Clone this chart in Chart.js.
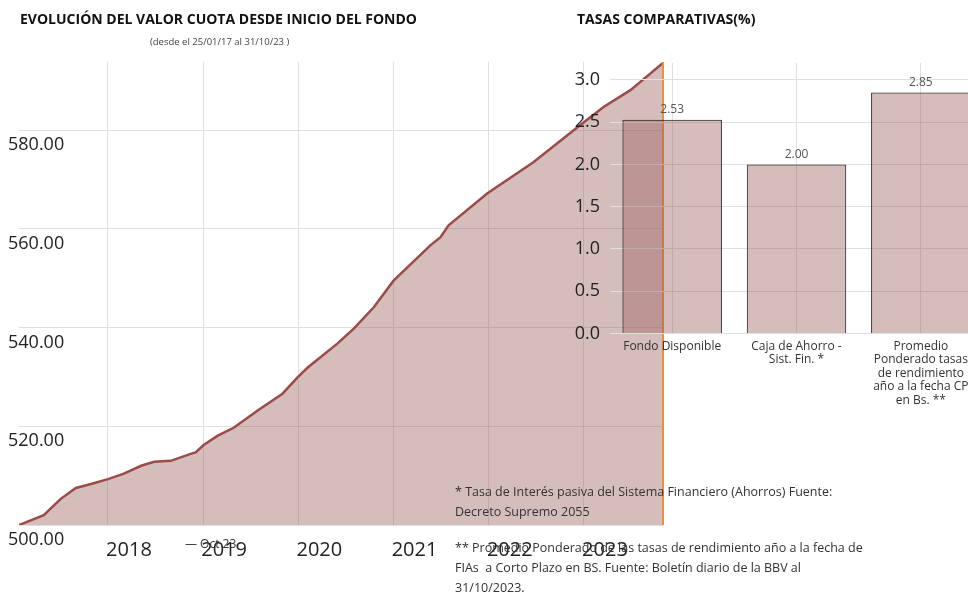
<!DOCTYPE html>
<html>
<head>
<meta charset="utf-8">
<script src="https://cdn.jsdelivr.net/npm/chart.js@4.4.1/dist/chart.umd.min.js"></script>
<style>
  body { margin: 0; width: 968px; height: 594px; overflow: hidden; position: relative; background: #fff; font-family: "Open Sans", sans-serif; color: #222; }
  canvas { position: absolute; top: 0; }
  #lineChart { left: 0; }
  #barChart { left: 566px; }
  .txt { position: absolute; white-space: nowrap; }
  .title { font-weight: 700; font-size: 14px; top: 9px; color: #111; }
  .sub { font-size: 9.5px; left: 150px; top: 35px; color: #444; }
  .legend { font-size: 12px; left: 185px; top: 535px; color: #333; }
  .notes { left: 455px; top: 482px; font-size: 12.5px; line-height: 20px; color: #333; }
  .notes p { margin: 0 0 16px 0; }
</style>
</head>
<body>
<canvas id="lineChart" width="968" height="594"></canvas>
<canvas id="barChart" width="417" height="594"></canvas>

<div class="txt title" style="left:20px">EVOLUCIÓN DEL VALOR CUOTA DESDE INICIO DEL FONDO</div>
<div class="txt sub">(desde el 25/01/17 al 31/10/23 )</div>
<div class="txt title" style="left:577px">TASAS COMPARATIVAS(%)</div>
<div class="txt legend">— Oct 23</div>
<div class="txt notes">
  <p>* Tasa de Interés pasiva del Sistema Financiero (Ahorros) Fuente:<br>Decreto Supremo 2055</p>
  <p>** Promedio Ponderado de las tasas de rendimiento año a la fecha de<br>FIAs&nbsp; a Corto Plazo en BS. Fuente: Boletín diario de la BBV al<br>31/10/2023.</p>
</div>

<script>
// valor cuota
const dates = [
  "2017-01-25", "2017-04-30", "2017-07-04", "2017-08-31", "2017-10-28",
  "2018-01-01", "2018-03-03", "2018-05-08", "2018-06-27", "2018-08-30",
  "2018-11-14", "2018-12-03", "2019-01-03", "2019-02-26", "2019-04-28",
  "2019-07-29", "2019-11-01", "2019-12-29", "2020-02-06", "2020-05-31",
  "2020-08-01", "2020-10-17", "2021-01-01", "2021-05-23", "2021-06-30",
  "2021-07-31", "2021-12-27", "2022-06-21", "2022-12-07", "2023-03-17",
  "2023-06-28", "2023-10-31"
]
const valores = [
  500.0, 502.0, 505.3, 507.5, 508.3,
  509.3, 510.4, 512.0, 512.8, 513.0,
  514.4, 514.7, 516.2, 518.1, 519.7,
  523.2, 526.6, 529.9, 531.9, 536.8,
  539.8, 544.1, 549.5, 556.7, 558.3,
  560.7, 567.2, 573.5, 580.6, 584.7,
  588.1, 593.6
]
const yearTicks = [2018, 2019, 2020, 2021, 2022, 2023]
const valueTicks = [500, 520, 540, 560, 580]

// tasas comparativas
const tasaLabels = [
  "Fondo Disponible",
  ["Caja de Ahorro -", "Sist. Fin. *"],
  ["Promedio", "Ponderado tasas", "de rendimiento", "año a la fecha CP", "en Bs. **"]
]
const tasas = [2.53, 2.00, 2.85]
const tasaTicks = [0, 0.5, 1.0, 1.5, 2.0, 2.5, 3.0]

const fillColor = "rgba(151, 90, 88, 0.4)"
const lineColor = "#9b4b49"
const gridColor = "#e0e0e0"

function toYear(s) {
  const [y, m, d] = s.split("-").map(Number)
  const start = Date.UTC(y, 0, 1)
  const end = Date.UTC(y + 1, 0, 1)
  return y + (Date.UTC(y, m - 1, d) - start) / (end - start)
}

Chart.defaults.font.family = "'Open Sans', sans-serif"
Chart.defaults.animation = false

const endLine = {
  id: "endLine",
  afterDatasetsDraw(chart) {
    const pts = chart.getDatasetMeta(0).data
    const x = pts[pts.length - 1].x
    const { top, bottom } = chart.chartArea
    const ctx = chart.ctx
    ctx.save()
    ctx.strokeStyle = "#e8903f"
    ctx.lineWidth = 2
    ctx.beginPath()
    ctx.moveTo(x, top)
    ctx.lineTo(x, bottom)
    ctx.stroke()
    ctx.restore()
  }
}

new Chart(document.getElementById("lineChart"), {
  type: "line",
  data: {
    datasets: [{
      label: "Oct 23",
      data: dates.map((d, i) => ({ x: toYear(d), y: valores[i] })),
      borderColor: lineColor,
      borderWidth: 2.5,
      backgroundColor: fillColor,
      fill: "start",
      pointRadius: 0,
      tension: 0
    }]
  },
  options: {
    responsive: false,
    layout: { padding: { left: 19, right: 305, top: 62, bottom: 19 } },
    plugins: { legend: { display: false }, tooltip: { enabled: false } },
    scales: {
      x: {
        type: "linear",
        min: toYear(dates[0]),
        max: toYear(dates[dates.length - 1]),
        afterBuildTicks: s => { s.ticks = yearTicks.map(v => ({ value: v })) },
        grid: { color: gridColor, drawTicks: false },
        border: { display: false },
        ticks: {
          callback: v => String(v),
          font: { size: 20 },
          color: "#222",
          padding: 13,
          labelOffset: 21,
          maxRotation: 0
        }
      },
      y: {
        min: 500,
        max: 593.8,
        afterBuildTicks: s => { s.ticks = valueTicks.map(v => ({ value: v })) },
        afterFit: s => { s.width = 0 },
        grid: { color: gridColor, drawTicks: false },
        border: { display: false },
        ticks: {
          mirror: true,
          padding: -11,
          labelOffset: 15,
          callback: v => v.toFixed(2),
          font: { size: 18 },
          color: "#222"
        }
      }
    }
  },
  plugins: [endLine]
})

const barValues = {
  id: "barValues",
  afterDatasetsDraw(chart) {
    const ctx = chart.ctx
    ctx.save()
    ctx.font = "12px 'Open Sans', sans-serif"
    ctx.fillStyle = "#555"
    ctx.textAlign = "center"
    ctx.textBaseline = "middle"
    chart.getDatasetMeta(0).data.forEach((bar, i) => {
      ctx.fillText(tasas[i].toFixed(2), bar.x, bar.y - 10)
    })
    ctx.restore()
  }
}

new Chart(document.getElementById("barChart"), {
  type: "bar",
  data: {
    labels: tasaLabels,
    datasets: [{
      data: tasas,
      backgroundColor: fillColor,
      borderColor: "#222",
      borderWidth: 1,
      categoryPercentage: 0.8,
      barPercentage: 1
    }]
  },
  options: {
    responsive: false,
    layout: { padding: { top: 63, bottom: 181 } },
    plugins: { legend: { display: false }, tooltip: { enabled: false } },
    scales: {
      x: {
        grid: { color: gridColor, offset: false, drawTicks: false },
        border: { display: false },
        ticks: {
          font: { size: 12, lineHeight: 1.125 },
          color: "#333",
          padding: 6,
          maxRotation: 0,
          autoSkip: false
        }
      },
      y: {
        min: 0,
        max: 3.2,
        afterBuildTicks: s => { s.ticks = tasaTicks.map(v => ({ value: v })) },
        afterFit: s => { s.width = 44 },
        grid: { color: gridColor, drawTicks: false },
        border: { display: false },
        ticks: {
          callback: v => v.toFixed(1),
          font: { size: 18 },
          color: "#222",
          padding: 10
        }
      }
    }
  },
  plugins: [barValues]
})
</script>
</body>
</html>
